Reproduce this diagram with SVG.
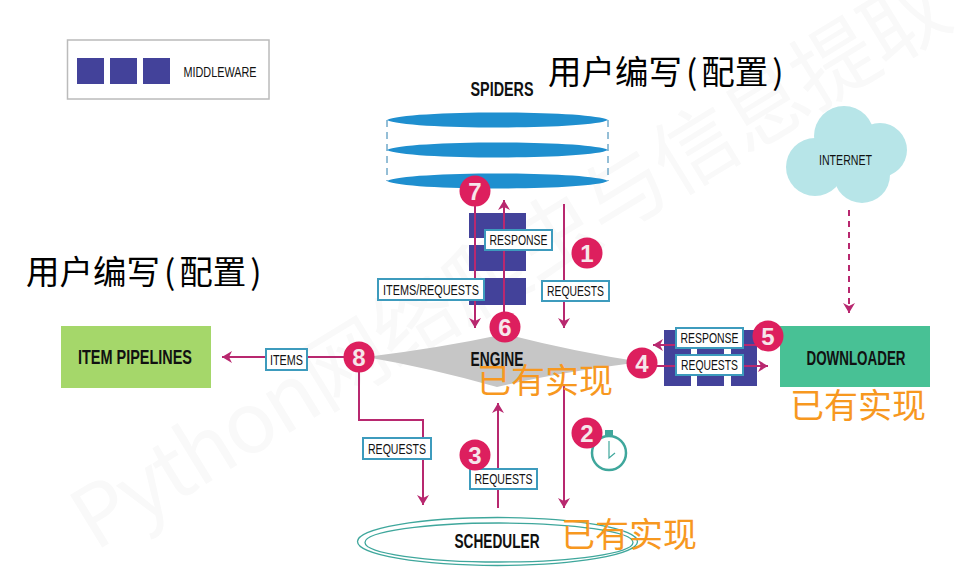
<svg xmlns="http://www.w3.org/2000/svg" width="976" height="587" viewBox="0 0 976 587">
<defs>
<marker id="head" markerWidth="14" markerHeight="12" refX="10" refY="6" orient="auto" markerUnits="userSpaceOnUse"><path d="M0 0L10 6L0 12L3 6Z" fill="#b8286f"/></marker>
</defs>
<style>
text{font-family:"Liberation Sans",sans-serif;fill:#111}
.cn{font-family:"Noto Sans CJK SC",sans-serif;font-weight:400}
.big{font-size:33.500px;fill:#000}
.org{font-size:34px;fill:#f7981f}
.title{font-weight:700;font-size:20px;text-anchor:middle;dominant-baseline:central}
.lab{font-size:15.500px;text-anchor:middle;dominant-baseline:central}
.box{fill:#fff;stroke:#3d9bbd;stroke-width:2}
.mw{fill:#43429a}
.line{fill:none;stroke:#b8286f;stroke-width:2}
.disc{fill:#1f8fcf}
.badge circle{fill:#dd1f5e}
.badge text{font-family:"Liberation Sans",sans-serif;font-weight:700;font-size:24px;fill:#f6e6ea;text-anchor:middle;dominant-baseline:central}
.wm{font-family:"Noto Sans CJK SC",sans-serif;font-size:84px;fill:#f9f9f9}
</style>
<rect width="976" height="587" fill="#fff"/>
<text class="wm" transform="translate(95 552) rotate(-31.5)" textLength="1010" lengthAdjust="spacing">Python网络爬虫与信息提取</text>

<g id="legend">
<rect x="67.500" y="40" width="201.500" height="59" fill="#fff" stroke="#bbb" stroke-width="1.500"/>
<rect class="mw" x="77" y="58" width="27" height="26"/><rect class="mw" x="110" y="58" width="27" height="26"/><rect class="mw" x="143" y="58" width="27" height="26"/>
<text class="lab" x="220" y="71.500" textLength="73" lengthAdjust="spacingAndGlyphs">MIDDLEWARE</text>
</g>

<g id="spiders">
<path d="M387 120V181M608 120V181" stroke="#2a7fae" stroke-width="1" stroke-dasharray="7 5" fill="none"/>
<path class="disc" d="M387 120C405 110 590 110 608 120C590 130 405 130 387 120Z"/>
<path class="disc" d="M387 150C405 140 590 140 608 150C590 160 405 160 387 150Z"/>
<path class="disc" d="M387 181C405 171 590 171 608 181C590 191 405 191 387 181Z"/>
<text class="title" x="502" y="89" textLength="63" lengthAdjust="spacingAndGlyphs">SPIDERS</text>
</g>

<g id="spider-middleware">
<rect class="mw" x="469" y="213" width="57" height="25"/><rect class="mw" x="469" y="245" width="57" height="26"/><rect class="mw" x="469" y="278" width="57" height="27"/>
</g>

<g id="internet">
<g fill="#b7e5e8"><circle cx="815" cy="167" r="29"/><circle cx="844" cy="136" r="30"/><circle cx="880" cy="150" r="27"/><circle cx="862" cy="175" r="28"/><rect x="815" y="140" width="50" height="40"/></g>
<text class="lab" x="845.500" y="159.500" textLength="53" lengthAdjust="spacingAndGlyphs">INTERNET</text>
</g>

<g id="downloader-middleware">
<rect class="mw" x="664" y="330" width="27" height="56"/><rect class="mw" x="697" y="330" width="27" height="56"/><rect class="mw" x="731" y="330" width="26" height="56"/>
<rect class="mw" x="664" y="330" width="93" height="18"/>
</g>

<g id="engine">
<path d="M366 357Q440 348 505 334Q575 352 642 362Q560 372 497 387Q430 368 366 357Z" fill="#c6c6c6"/>
<text class="title" x="497" y="359" textLength="53" lengthAdjust="spacingAndGlyphs">ENGINE</text>
</g>

<g id="item-pipelines">
<rect x="61" y="326" width="150" height="62" fill="#a5d76a"/>
<text class="title" x="135" y="357" textLength="114" lengthAdjust="spacingAndGlyphs">ITEM PIPELINES</text>
</g>

<g id="downloader">
<rect x="780" y="326" width="150" height="61" fill="#48c195"/>
<text class="title" x="856" y="358" textLength="99" lengthAdjust="spacingAndGlyphs">DOWNLOADER</text>
</g>

<g id="scheduler">
<ellipse cx="497.500" cy="541.500" rx="140" ry="24" fill="#fff" stroke="#3fa79c" stroke-width="1.300"/>
<ellipse cx="499" cy="542.500" rx="134" ry="19.500" fill="none" stroke="#3fa79c" stroke-width="1.300"/>
<text class="title" x="497" y="541" textLength="85" lengthAdjust="spacingAndGlyphs">SCHEDULER</text>
</g>

<g id="stopwatch" fill="none" stroke="#3fa79c" stroke-width="2.500">
<circle cx="609" cy="453" r="17"/>
<path d="M609 441V458L615 453" stroke-width="1.200"/>
<rect x="605" y="430" width="8" height="5" fill="#3fa79c" stroke="none"/>
</g>

<g id="connectors">
<path class="line" marker-end="url(#head)" d="M475 191V328"/>
<path class="line" marker-end="url(#head)" d="M504 325V200"/>
<path class="line" marker-end="url(#head)" d="M564 204V328"/>
<path class="line" marker-end="url(#head)" stroke-dasharray="6 5" d="M849 210V313"/>
<path class="line" marker-end="url(#head)" d="M359 357H222"/>
<path class="line" marker-end="url(#head)" d="M359 357V420H423V505"/>
<path class="line" marker-end="url(#head)" d="M498 508V403"/>
<path class="line" marker-end="url(#head)" d="M564 385V508"/>
<path class="line" marker-end="url(#head)" d="M768 345H653"/>
<path class="line" marker-end="url(#head)" d="M642 366H768"/>
</g>

<g id="labels">
<g><rect class="box" x="485" y="230" width="67" height="20"/><text class="lab" x="518.500" y="239.500" textLength="58" lengthAdjust="spacingAndGlyphs">RESPONSE</text></g>
<g><rect class="box" x="378" y="279" width="106" height="21"/><text class="lab" x="431" y="289.500" textLength="96" lengthAdjust="spacingAndGlyphs">ITEMS/REQUESTS</text></g>
<g><rect class="box" x="542" y="281" width="67" height="20"/><text class="lab" x="575.500" y="290.500" textLength="57" lengthAdjust="spacingAndGlyphs">REQUESTS</text></g>
<g><rect class="box" x="266" y="349" width="41" height="21"/><text class="lab" x="286.500" y="359.500" textLength="33" lengthAdjust="spacingAndGlyphs">ITEMS</text></g>
<g><rect class="box" x="676" y="328" width="67" height="20"/><text class="lab" x="709.500" y="337.500" textLength="58" lengthAdjust="spacingAndGlyphs">RESPONSE</text></g>
<g><rect class="box" x="676" y="355" width="67" height="20"/><text class="lab" x="709.500" y="364.500" textLength="57" lengthAdjust="spacingAndGlyphs">REQUESTS</text></g>
<g><rect class="box" x="363" y="438" width="68" height="21"/><text class="lab" x="397" y="448.500" textLength="58" lengthAdjust="spacingAndGlyphs">REQUESTS</text></g>
<g><rect class="box" x="470" y="469" width="67" height="20"/><text class="lab" x="503.500" y="478.500" textLength="58" lengthAdjust="spacingAndGlyphs">REQUESTS</text></g>
</g>

<g id="badges">
<g class="badge"><circle cx="587" cy="253" r="15.500"/><text x="587" y="253">1</text></g>
<g class="badge"><circle cx="587" cy="433" r="15.500"/><text x="587" y="433">2</text></g>
<g class="badge"><circle cx="475" cy="455" r="15.500"/><text x="475" y="455">3</text></g>
<g class="badge"><circle cx="642" cy="363" r="15.500"/><text x="642" y="363">4</text></g>
<g class="badge"><circle cx="768" cy="336" r="15.500"/><text x="768" y="336">5</text></g>
<g class="badge"><circle cx="505" cy="327" r="15.500"/><text x="505" y="327">6</text></g>
<g class="badge"><circle cx="475" cy="191" r="15.500"/><text x="475" y="191">7</text></g>
<g class="badge"><circle cx="359" cy="357" r="15.500"/><text x="359" y="357">8</text></g>
</g>

<g id="notes">
<text class="cn big" x="548" y="84">用户编写<tspan dx="4">(</tspan><tspan dx="4">配置</tspan><tspan dx="4">)</tspan></text>
<text class="cn big" x="26" y="284">用户编写<tspan dx="4">(</tspan><tspan dx="4">配置</tspan><tspan dx="4">)</tspan></text>
<text class="cn org" x="477" y="393">已有实现</text>
<text class="cn org" x="790" y="418">已有实现</text>
<text class="cn org" x="561" y="547">已有实现</text>
</g>
</svg>
